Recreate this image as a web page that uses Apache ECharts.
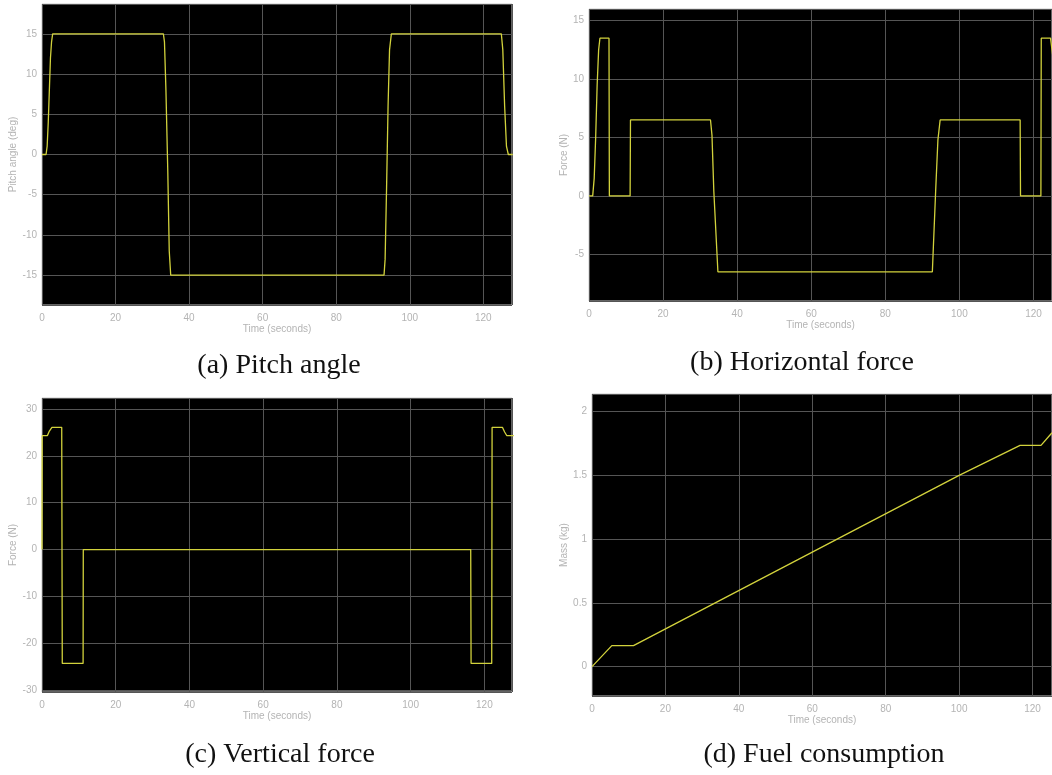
<!DOCTYPE html>
<html>
<head>
<meta charset="utf-8">
<script src="https://cdn.jsdelivr.net/npm/echarts@6/dist/echarts.min.js"></script>
<style>
* { margin: 0; padding: 0; }
body { background: #fff; }
#main { width: 1052px; height: 775px; }
</style>
</head>
<body>
<div id="main"></div>
<script>
// [time (s), value] pairs
var pitchData = [[0,0],[1.1,0],[1.4,1],[1.7,4],[2.0,8],[2.3,12],[2.6,14],[2.9,15],[33,15],[33.3,14],[33.7,8],[34.2,-2],[34.6,-12],[35,-15],
  [93,-15],[93.3,-13],[93.7,-4],[94.1,6],[94.5,13],[95,15],[124.9,15],[125.3,13],[125.8,6],[126.3,1],[126.8,0],[128,0]];
var hForceData = [[0,0],[1.0,0],[1.4,1.5],[1.8,5],[2.2,9.5],[2.6,12.5],[2.95,13.5],[5.4,13.5],[5.5,0],[11.1,0],[11.2,6.5],[32.8,6.5],[33.2,5.2],[33.7,0.4],[34.8,-6.5],
  [92.7,-6.5],[93.6,0.5],[94.2,4.8],[94.8,6.5],[116.4,6.5],[116.5,0],[122.0,0],[122.1,13.5],[124.6,13.5],[125.2,12],[126,6],[126.8,0.5],[127.2,0],[128,0]];
var vForceData = [[0,0],[0.05,24.3],[1.45,24.3],[2.0,25.3],[2.7,26.1],[5.35,26.1],[5.5,-24.3],[11.15,-24.3],[11.2,0],[116.3,0],[116.4,-24.3],
  [122.0,-24.3],[122.1,26.1],[124.9,26.1],[125.5,25.1],[126.1,24.3],[128,24.3]];
var fuelData = [[0,0],[5.4,0.165],[11.3,0.165],[60,0.897],[100,1.498],[116.6,1.733],[122.3,1.733],[125,1.823],[128,1.9]];

var xName = 'Time (seconds)';
var yNames = ['Pitch angle (deg)', 'Force (N)', 'Force (N)', 'Mass (kg)'];
var captions = ['(a) Pitch angle', '(b) Horizontal force', '(c) Vertical force', '(d) Fuel consumption'];

var chart = echarts.init(document.getElementById('main'));

// right-hand panels run off the page edge, so their visible x range stops early
var grids = [
  {left: 42, top: 4, width: 470, height: 301},
  {left: 589, top: 9, width: 464, height: 292},
  {left: 42, top: 398, width: 470, height: 294},
  {left: 592, top: 394, width: 461, height: 302}
];
var xMax = [127.8, 125.0, 127.5, 125.3];
var yRange = [[-18.7, 18.7, 7], [-9, 16, 5], [-30.4, 32.35, 6], [-0.23, 2.136, 5]];
var series_data = [pitchData, hForceData, vForceData, fuelData];
var yGaps = [20, 20, 20, 20];

var labelStyle = {color: '#b4b4b4', fontSize: 10, fontFamily: 'Liberation Sans'};
var capFont = '28px "Liberation Serif"';

chart.setOption({
  animation: false,
  backgroundColor: '#fff',
  grid: grids.map(function (g) {
    return Object.assign({show: true, backgroundColor: '#000', borderColor: '#c8c8c8', borderWidth: 1}, g);
  }),
  xAxis: grids.map(function (g, i) {
    return {
      type: 'value', gridIndex: i, min: 0, max: xMax[i], interval: 20,
      name: xName, nameLocation: 'middle', nameGap: 19,
      nameTextStyle: labelStyle,
      axisLine: {show: false}, axisTick: {show: false},
      axisLabel: Object.assign({margin: 8, showMaxLabel: false}, labelStyle),
      splitLine: {show: true, lineStyle: {color: '#555', width: 1}}
    };
  }),
  yAxis: grids.map(function (g, i) {
    return {
      type: 'value', gridIndex: i, min: yRange[i][0], max: yRange[i][1], splitNumber: yRange[i][2],
      name: yNames[i], nameLocation: 'middle', nameGap: yGaps[i],
      nameTextStyle: labelStyle,
      axisLine: {show: false}, axisTick: {show: false},
      axisLabel: Object.assign({margin: 5, showMinLabel: false, showMaxLabel: false}, labelStyle),
      splitLine: {show: true, lineStyle: {color: '#555', width: 1}}
    };
  }),
  series: series_data.map(function (d, i) {
    return {
      type: 'line', xAxisIndex: i, yAxisIndex: i, data: d,
      showSymbol: false, clip: true,
      lineStyle: {color: '#d2d23c', width: 1.3}
    };
  }),
  graphic: [
    {type: 'text', x: 279, y: 366, style: {text: captions[0], font: capFont, fill: '#111', textAlign: 'center', textVerticalAlign: 'middle'}},
    {type: 'text', x: 802, y: 363, style: {text: captions[1], font: capFont, fill: '#111', textAlign: 'center', textVerticalAlign: 'middle'}},
    {type: 'text', x: 280, y: 755, style: {text: captions[2], font: capFont, fill: '#111', textAlign: 'center', textVerticalAlign: 'middle'}},
    {type: 'text', x: 824, y: 755, style: {text: captions[3], font: capFont, fill: '#111', textAlign: 'center', textVerticalAlign: 'middle'}}
  ]
});
</script>
</body>
</html>
